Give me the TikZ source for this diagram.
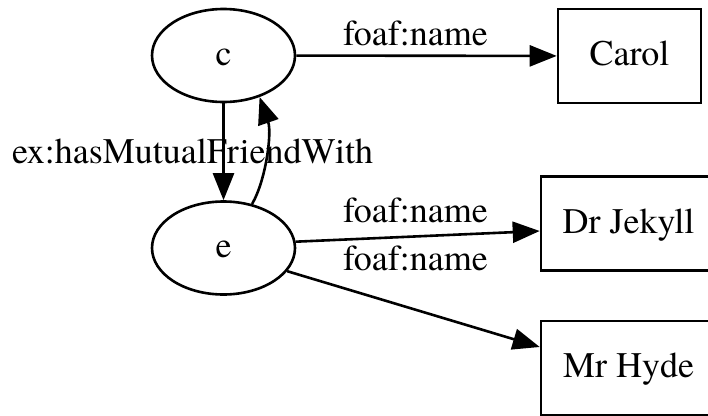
\documentclass[tikz,border=0pt]{standalone}
\usepackage{fontspec}
\setmainfont{TeX Gyre Termes}
\usetikzlibrary{arrows.meta,shapes.geometric}

\tikzset{
  every node/.style={font=\fontsize{36}{43}\selectfont},
  res/.style={ellipse, draw, line width=2.6pt, minimum width=143pt, minimum height=93pt,
              inner sep=0pt, text height=26pt, text depth=7pt},
  lit/.style={rectangle, draw, line width=2.6pt, minimum height=94pt,
              inner sep=0pt, text height=26pt, text depth=7pt},
  prop/.style={anchor=base west, inner sep=0pt},
  rel/.style={line width=2.6pt, -{Triangle[length=27pt,width=21pt]}},
}

\begin{document}
\begin{tikzpicture}[x=1pt, y=-1pt]
  \useasboundingbox (0,0) rectangle (708,415);
  \clip (0,0) rectangle (708,415);

  % subjects
  \node[res] (c) at (223.5,55.5) {c};
  \node[res] (e) at (223.5,248) {e};

  % literal values
  \node[lit, minimum width=143pt] (carol) at (629.5,56) {Carol};
  \node[lit, minimum width=175pt] (jekyll) at (628.5,223.5) {Dr Jekyll};
  \node[lit, minimum width=175pt] (hyde) at (628.5,368) {Mr Hyde};

  % edges
  \draw[rel] (c) -- (carol);
  \draw[rel] (c.south) -- (e.north);
  \draw[rel] (e.57) .. controls (266,180) and (272,133) .. (c.-49);
  \draw[rel] (e.5) -- ([yshift=-7.5pt]jekyll.west);
  \draw[rel] (e.-20) -- ([yshift=21pt]hyde.west);

  % edge labels
  \node[prop] (l1) at (343,45) {foaf:name};
  \node[prop] (l2) at (12,163) {ex:hasMutualFriendWith};
  \node[prop] (l3) at (343,222) {foaf:name};
  \node[prop] (l4) at (343,270) {foaf:name};
\end{tikzpicture}
\end{document}
